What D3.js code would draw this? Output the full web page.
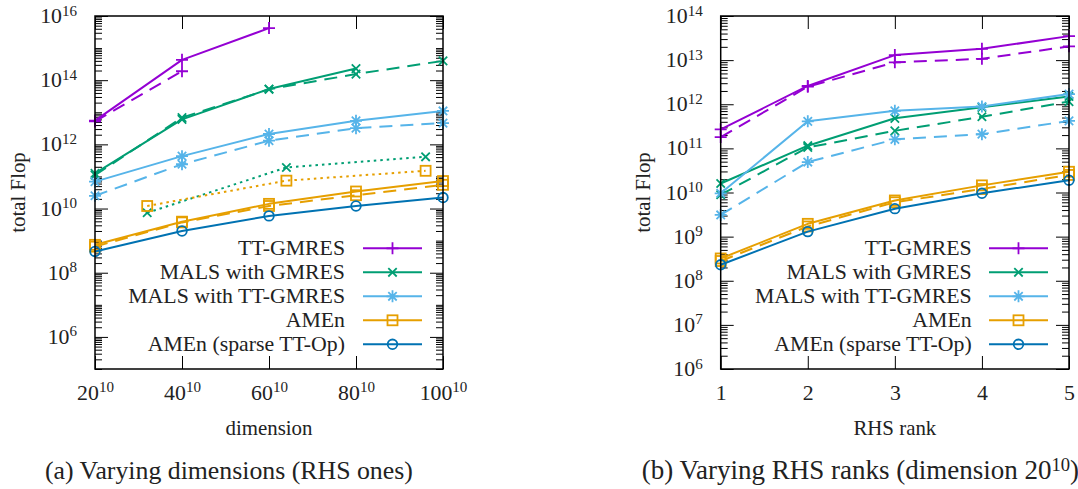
<!DOCTYPE html>
<html><head><meta charset="utf-8">
<script src="https://cdn.jsdelivr.net/npm/d3@7"></script>
<style>body{margin:0;background:#fff} svg{display:block}</style>
</head><body><svg id="c" width="1078" height="489"></svg>
<script>
// ---------- data ----------
const dimsMain = [20, 40, 60, 80, 100];
const dimsOdd = [32, 64, 96];
const dimTicks = [20, 40, 60, 80, 100];
const ranks = [1, 2, 3, 4, 5];
const legendNames = ["TT-GMRES", "MALS with GMRES", "MALS with TT-GMRES", "AMEn", "AMEn (sparse TT-Op)"];
const yExpA = [6, 8, 10, 12, 14, 16];
const yExpB = [6, 7, 8, 9, 10, 11, 12, 13, 14];

// (a) varying dimensions
const ttgmresA_solid = [5.5e12, 4.3e14, 4.2e15];           // dims 20,40,60
const ttgmresA_dashed = [5.2e12, 1.9e14];                  // dims 20,40
const malsGmresA_solid = [1.25e11, 6.0e12, 5.3e13, 2.3e14]; // dims 20..80
const malsGmresA_dashed = [1.1e11, 6.8e12, 5.2e13, 1.55e14, 4.0e14];
const malsGmresA_dotted = [7.4e9, 1.9e11, 4.1e11];          // dims 32,64,96
const malsTTA_solid = [6.9e10, 4.3e11, 2.1e12, 5.4e12, 1.1e13];
const malsTTA_dashed = [2.5e10, 2.4e11, 1.3e12, 3.2e12, 4.6e12];
const amenA_solid = [7.4e8, 3.9e9, 1.4e10, 3.4e10, 7.2e10];
const amenA_dashed = [6.5e8, 3.7e9, 1.2e10, 2.6e10, 5.5e10];
const amenA_dotted = [1.2e10, 7.4e10, 1.5e11];             // dims 32,64,96
const amenSparseA = [4.6e8, 2.0e9, 5.9e9, 1.2e10, 2.2e10];

// (b) varying RHS ranks
const ttgmresB_solid = [2.7e11, 2.6e12, 1.3e13, 1.8e13, 3.5e13];
const ttgmresB_dashed = [1.8e11, 2.5e12, 8.9e12, 1.07e13, 2.05e13];
const malsGmresB_solid = [1.6e10, 1.15e11, 4.8e11, 8.5e11, 1.5e12];
const malsGmresB_dashed = [8.9e9, 1.05e11, 2.5e11, 5.2e11, 1.15e12];
const malsTTB_solid = [9.6e9, 4.1e11, 7.1e11, 8.9e11, 1.7e12];
const malsTTB_dashed = [3.1e9, 4.9e10, 1.6e11, 2.1e11, 4.2e11];
const amenB_solid = [3.2e8, 1.95e9, 6.6e9, 1.45e10, 2.95e10];
const amenB_dashed = [2.8e8, 1.7e9, 6.0e9, 1.2e10, 2.5e10];
const amenSparseB = [2.3e8, 1.3e9, 4.3e9, 9.6e9, 1.9e10];

// ---------- styling ----------
const colors = ["#9400d3", "#009e73", "#56b4e9", "#e69f00", "#0072b2"];
const markers = ["plus", "cross", "star", "square", "circle"];
const DASH = "13,8", DOT = "2.5,4";
const FONT = "Liberation Serif, DejaVu Serif, Noto Serif, Times New Roman, serif";

const svg = d3.select("#c");
svg.append("rect").attr("width", 1078).attr("height", 489).attr("fill", "#fff");

function fitSize(str, target, base, lo, hi) {
  const probe = svg.append("text").attr("font-family", FONT).attr("font-size", base).text(str);
  const w = probe.node().getComputedTextLength();
  probe.remove();
  return w > 0 ? Math.max(lo, Math.min(hi, base * target / w)) : base;
}
const FS = fitSize("MALS with TT-GMRES", 217, 21, 15, 23);
const FSS = FS * 0.69;
const FT = fitSize("dimension", 87, 21, 15, 24);
const FC = fitSize("(a) Varying dimensions (RHS ones)", 368, 21, 15, 26);
const FCB = fitSize("(b) Varying RHS ranks (dimension ", 390, 21, 15, 27);

function drawMarker(g, type, cx, cy, color) {
  const m = g.append("g").attr("transform", `translate(${cx},${cy})`)
    .attr("stroke", color).attr("fill", "none").attr("stroke-width", 1.8);
  if (type === "plus") m.append("path").attr("d", "M-6,0H6M0,-6V6");
  else if (type === "cross") m.append("path").attr("d", "M-4.2,-4.2L4.2,4.2M-4.2,4.2L4.2,-4.2");
  else if (type === "star") m.append("path").attr("d", "M-6,0H6M0,-6V6M-4.2,-4.2L4.2,4.2M-4.2,4.2L4.2,-4.2");
  else if (type === "square") m.append("rect").attr("x", -5).attr("y", -5).attr("width", 10).attr("height", 10);
  else if (type === "circle") m.append("circle").attr("r", 4.8);
}

function drawPanel(o) {
  const g = svg.append("g");
  const x = d3.scaleLinear().domain(o.xDomain).range([o.left, o.right]);
  const y = d3.scaleLog().domain(o.yDomain).range([o.bottom, o.top]);
  const lo = Math.round(Math.log10(o.yDomain[0])), hi = Math.round(Math.log10(o.yDomain[1]));
  const majors = o.yExp.map(e => Math.pow(10, e));
  const minor = [];
  for (let e = lo; e < hi; e++) for (let k = 1; k < 10; k++) {
    if (k === 1 && o.yExp.includes(e)) continue;
    minor.push(k * Math.pow(10, e));
  }
  const style = s => s.call(a => a.select(".domain").remove())
    .call(a => a.selectAll(".tick line").attr("stroke", "#000").attr("stroke-width", 1));

  g.append("g").attr("transform", `translate(${o.left},0)`)
    .call(d3.axisLeft(y).tickValues(minor).tickSize(-7).tickFormat("")).call(style);
  g.append("g").attr("transform", `translate(${o.right},0)`)
    .call(d3.axisRight(y).tickValues(minor).tickSize(-7).tickFormat("")).call(style);
  g.append("g").attr("transform", `translate(${o.right},0)`)
    .call(d3.axisRight(y).tickValues(majors).tickSize(-13).tickFormat("")).call(style);
  const yl = g.append("g").attr("transform", `translate(${o.left},0)`)
    .call(d3.axisLeft(y).tickValues(majors).tickSize(-13).tickPadding(18).tickFormat(d => Math.round(Math.log10(d))))
    .call(style);
  yl.selectAll(".tick text").each(function(d) {
    const t = d3.select(this);
    t.text(null).attr("font-family", FONT).attr("font-size", FS).attr("fill", "#222")
      .attr("dy", null).attr("y", 6.5).attr("x", -18);
    t.append("tspan").text("10");
    t.append("tspan").attr("dy", -7.5).attr("font-size", FSS).text(Math.round(Math.log10(d)));
  });

  g.append("g").attr("transform", `translate(0,${o.top})`)
    .call(d3.axisTop(x).tickValues(o.xTicks).tickSize(-13).tickFormat("")).call(style);
  const xl = g.append("g").attr("transform", `translate(0,${o.bottom})`)
    .call(d3.axisBottom(x).tickValues(o.xTicks).tickSize(-13).tickFormat(d => d)).call(style);
  xl.selectAll(".tick text").each(function(d) {
    const t = d3.select(this);
    t.text(null).attr("font-family", FONT).attr("font-size", FS).attr("fill", "#222")
      .attr("dy", null).attr("y", 30.5);
    t.append("tspan").text(d);
    if (o.xSup) t.append("tspan").attr("dy", -8).attr("font-size", FSS).text(o.xSup);
  });

  // series
  const line = d3.line().x(d => x(d[0])).y(d => y(d[1]));
  o.series.forEach(s => {
    const pts = s.xs.map((v, i) => [v, s.ys[i]]);
    g.append("path").attr("d", line(pts)).attr("fill", "none")
      .attr("stroke", colors[s.idx]).attr("stroke-width", 2)
      .attr("stroke-dasharray", s.dash || null).attr("stroke-linejoin", "round");
    pts.forEach(p => drawMarker(g, markers[s.idx], x(p[0]), y(p[1]), colors[s.idx]));
  });

  // frame
  g.append("rect").attr("x", o.left).attr("y", o.top)
    .attr("width", o.right - o.left).attr("height", o.bottom - o.top)
    .attr("fill", "none").attr("stroke", "#000").attr("stroke-width", 1.5);

  // legend
  legendNames.forEach((name, i) => {
    const ry = 248.3 + i * 24;
    g.append("text").attr("x", o.legText).attr("y", ry + 6.5).attr("text-anchor", "end")
      .attr("font-family", FONT).attr("font-size", FS).attr("fill", "#222").text(name);
    g.append("line").attr("x1", o.legLine).attr("x2", o.legLine + 59).attr("y1", ry).attr("y2", ry)
      .attr("stroke", colors[i]).attr("stroke-width", 2);
    drawMarker(g, markers[i], o.legLine + 29.5, ry, colors[i]);
  });

  // axis titles
  g.append("text").attr("x", (o.left + o.right) / 2).attr("y", 435).attr("text-anchor", "middle")
    .attr("font-family", FONT).attr("font-size", FT).attr("fill", "#222").text(o.xTitle);
  g.append("text").attr("transform", `translate(${o.yTitleX},${(o.top + o.bottom) / 2}) rotate(-90)`)
    .attr("text-anchor", "middle").attr("font-family", FONT).attr("font-size", FT).attr("fill", "#222")
    .text("total Flop");
}

drawPanel({
  left: 95, right: 443, top: 16, bottom: 369,
  xDomain: [20, 100], yDomain: [1e5, 1e16], yExp: yExpA, xTicks: dimTicks, xSup: "10",
  legText: 345, legLine: 363, xTitle: "dimension", yTitleX: 25,
  series: [
    {idx: 0, xs: dimsMain.slice(0, 3), ys: ttgmresA_solid},
    {idx: 0, xs: dimsMain.slice(0, 2), ys: ttgmresA_dashed, dash: DASH},
    {idx: 1, xs: dimsMain.slice(0, 4), ys: malsGmresA_solid},
    {idx: 1, xs: dimsMain, ys: malsGmresA_dashed, dash: DASH},
    {idx: 1, xs: dimsOdd, ys: malsGmresA_dotted, dash: DOT},
    {idx: 2, xs: dimsMain, ys: malsTTA_solid},
    {idx: 2, xs: dimsMain, ys: malsTTA_dashed, dash: DASH},
    {idx: 3, xs: dimsMain, ys: amenA_solid},
    {idx: 3, xs: dimsMain, ys: amenA_dashed, dash: DASH},
    {idx: 3, xs: dimsOdd, ys: amenA_dotted, dash: DOT},
    {idx: 4, xs: dimsMain, ys: amenSparseA}
  ]
});

drawPanel({
  left: 720.7, right: 1069, top: 16, bottom: 369,
  xDomain: [1, 5], yDomain: [1e6, 1e14], yExp: yExpB, xTicks: ranks, xSup: null,
  legText: 971.7, legLine: 989, xTitle: "RHS rank", yTitleX: 650,
  series: [
    {idx: 0, xs: ranks, ys: ttgmresB_solid},
    {idx: 0, xs: ranks, ys: ttgmresB_dashed, dash: DASH},
    {idx: 1, xs: ranks, ys: malsGmresB_solid},
    {idx: 1, xs: ranks, ys: malsGmresB_dashed, dash: DASH},
    {idx: 2, xs: ranks, ys: malsTTB_solid},
    {idx: 2, xs: ranks, ys: malsTTB_dashed, dash: DASH},
    {idx: 3, xs: ranks, ys: amenB_solid},
    {idx: 3, xs: ranks, ys: amenB_dashed, dash: DASH},
    {idx: 4, xs: ranks, ys: amenSparseB}
  ]
});

// captions
svg.append("text").attr("x", 45).attr("y", 479)
  .attr("font-family", FONT).attr("font-size", FC).attr("fill", "#222")
  .text("(a) Varying dimensions (RHS ones)");
const capB = svg.append("text").attr("x", 641.7).attr("y", 479)
  .attr("font-family", FONT).attr("font-size", FCB).attr("fill", "#222");
capB.append("tspan").text("(b) Varying RHS ranks (dimension 20");
capB.append("tspan").attr("dy", -8).attr("font-size", FCB * 0.69).text("10");
capB.append("tspan").attr("dy", 8).text(")");
</script>
</body></html>
